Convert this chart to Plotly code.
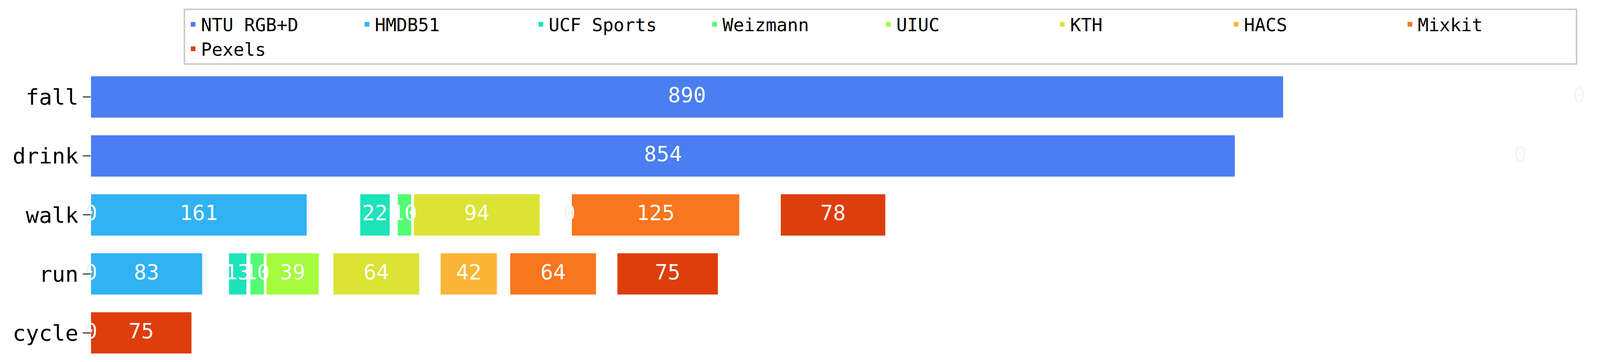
import plotly.graph_objects as go

categories = ["fall", "drink", "walk", "run", "cycle"]
datasets = ["NTU RGB+D", "HMDB51", "UCF Sports", "Weizmann", "UIUC", "KTH", "HACS", "Mixkit", "Pexels"]
colors = ["#4a7ef1", "#30b2f3", "#1de3bb", "#54fc74", "#a4fc3c", "#dbe335", "#fbb536", "#f8761e", "#dd3e0b"]

# values per dataset, per category (fall, drink, walk, run, cycle)
values = {
    "NTU RGB+D":  [890, 854, 0, 0, 0],
    "HMDB51":     [0, 0, 161, 83, 0],
    "UCF Sports": [0, 0, 22, 13, 0],
    "Weizmann":   [0, 0, 10, 10, 0],
    "UIUC":       [0, 0, 0, 39, 0],
    "KTH":        [0, 0, 94, 64, 0],
    "HACS":       [0, 0, 0, 42, 0],
    "Mixkit":     [0, 0, 125, 64, 0],
    "Pexels":     [0, 0, 78, 75, 75],
}
# start of each dataset segment along the axis
starts = {
    "NTU RGB+D":  [0, 0, 0, 0, 0],
    "HMDB51":     [0, 0, 0, 0, 0],
    "UCF Sports": [0, 0, 201, 103, 0],
    "Weizmann":   [0, 0, 229, 119, 0],
    "UIUC":       [0, 0, 0, 131, 0],
    "KTH":        [0, 0, 241, 181, 0],
    "HACS":       [0, 0, 0, 261, 0],
    "Mixkit":     [0, 0, 359, 313, 0],
    "Pexels":     [0, 0, 515, 393, 0],
}
# visible "0" labels
zero_cats = ["fall", "drink", "walk", "walk", "run", "cycle"]
zero_pos = [1111, 1067, 0, 357, 0, 0]

fig = go.Figure()
lab_x, lab_y, lab_t = [], [], []
for name, col in zip(datasets, colors):
    v = values[name]
    fig.add_trace(go.Bar(
        name=name, y=categories, x=v, base=starts[name], orientation="h",
        marker=dict(color=col, line=dict(width=0)),
        textposition="none", width=0.7,
    ))
    for c, a, s in zip(categories, v, starts[name]):
        if a > 0:
            lab_x.append(s + a / 2); lab_y.append(c); lab_t.append(str(a))
fig.add_trace(go.Scatter(
    x=lab_x, y=lab_y, mode="text", text=lab_t,
    textfont=dict(color="white", size=54, family="DejaVu Sans Mono"),
    showlegend=False, hoverinfo="skip", cliponaxis=False,
))
fig.add_trace(go.Scatter(
    x=zero_pos, y=zero_cats, mode="text", text=["0"] * len(zero_pos),
    textfont=dict(color="#f4f4f4", size=54, family="DejaVu Sans Mono"),
    showlegend=False, hoverinfo="skip", cliponaxis=False,
))

fig.update_layout(
    width=4106, height=928, barmode="overlay",
    plot_bgcolor="white", paper_bgcolor="white",
    margin=dict(l=225, r=20, t=154, b=7),
    font=dict(family="DejaVu Sans Mono", size=48, color="black"),
    legend=dict(orientation="h", x=0.0615, xanchor="left", y=0.985, yanchor="top",
                yref="container", bordercolor="#cccccc", borderwidth=4,
                font=dict(size=46), entrywidth=400, entrywidthmode="pixels"),
    xaxis=dict(visible=False, range=[0, 1126]),
    yaxis=dict(categoryorder="array", categoryarray=categories[::-1],
               range=[-0.5, 4.5], showline=False, ticks="outside", ticklen=20,
               tickwidth=3, tickfont=dict(size=56), showgrid=False),
)
fig.write_html("out.html")
